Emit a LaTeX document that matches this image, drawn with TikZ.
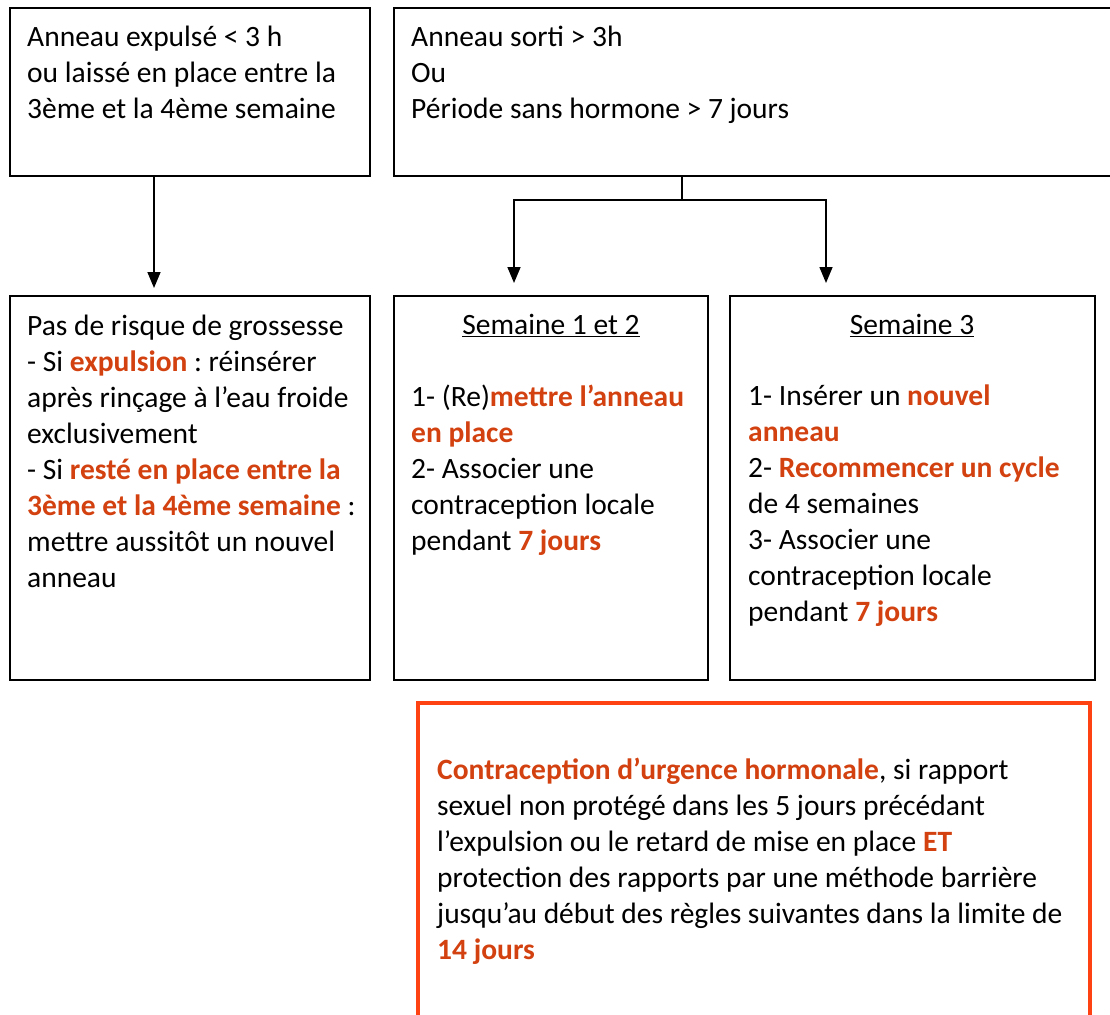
\documentclass[tikz,border=0pt]{standalone}
\usepackage{fontspec}
\setmainfont{Carlito}
\usetikzlibrary{arrows.meta}
\definecolor{fg}{HTML}{000000}
\definecolor{re}{HTML}{D2410F}
\definecolor{rb}{HTML}{FF4212}
\newcommand{\redbf}[1]{\textbf{\color{re}#1}}
\frenchspacing

\begin{document}
\begin{tikzpicture}[x=1pt, y=-1pt,
  panel/.style={draw=fg, line width=1.6pt, anchor=north west, inner sep=0pt, outer sep=0pt},
  txt/.style={anchor=north west, align=left, inner sep=0pt, font=\fontsize{29.5}{36}\selectfont},
  head/.style={anchor=north, inner sep=0pt, font=\fontsize{29.5}{36}\selectfont, execute at begin node=\strut},
  link/.style={draw=fg, line width=1.6pt},
  tip/.style={-{Triangle[length=16pt, width=13pt]}}]

  % Page
  \path[use as bounding box, clip] (0,0) rectangle (1110,1014);

  % Top boxes
  \node[panel, minimum width=360pt, minimum height=168pt] (expul) at (10,8) {};
  \node[panel, minimum width=730pt, minimum height=168pt] (sorti) at (394,8) {};

  % Lower boxes
  \node[panel, minimum width=360pt, minimum height=384pt] (risque) at (10,296) {};
  \node[panel, minimum width=314pt, minimum height=384pt] (sem12) at (394,296) {};
  \node[panel, minimum width=365pt, minimum height=384pt] (sem3) at (730,296) {};

  % Emergency box
  \node[panel, draw=rb, line width=4pt, minimum width=672pt, minimum height=420pt] (urgence) at (418,703) {};

  % Texts
  \node[txt] (texpul) at (27,26) {Anneau expulsé < 3 h\\ou laissé en place entre la\\3ème et la 4ème semaine};
  \node[txt] (tsorti) at (411,26) {Anneau sorti > 3h\\Ou\\Période sans hormone > 7 jours};
  \node[txt] (trisque) at (27,315) {Pas de risque de grossesse\\- Si \redbf{expulsion} : réinsérer\\après rinçage à l’eau froide\\exclusivement\\- Si \redbf{resté en place entre la}\\\redbf{3ème et la 4ème semaine} :\\mettre aussitôt un nouvel\\anneau};
  \node[head] (h12) at (551,309) {\underline{Semaine 1 et 2}};
  \node[txt] (t12) at (411,385) {1- (Re)\redbf{mettre l’anneau}\\\redbf{en place}\\2- Associer une\\contraception locale\\pendant \redbf{7 jours}};
  \node[head] (h3) at (912,309) {\underline{Semaine 3}};
  \node[txt] (t3) at (748,385) {1- Insérer un \redbf{nouvel}\\\redbf{anneau}\\2- \redbf{Recommencer un cycle}\\de 4 semaines\\3- Associer une\\contraception locale\\pendant \redbf{7 jours}};
  \node[txt] (turg) at (437,758) {\redbf{Contraception d’urgence hormonale}, si rapport\\sexuel non protégé dans les 5 jours précédant\\l’expulsion ou le retard de mise en place \redbf{ET}\\protection des rapports par une méthode barrière\\jusqu’au début des règles suivantes dans la limite de\\\redbf{14 jours}};

  % Arrow left
  \coordinate (a) at ([xshift=-36pt]expul.south);
  \draw[link, tip, shorten >=8pt] (a) -- (a |- risque.north);

  % Arrows right
  \coordinate (b) at (682,176);
  \coordinate (bl) at (514,200);
  \coordinate (br) at (826,200);
  \draw[link, tip, shorten >=13pt] (b) -- (b |- bl) -| (bl |- sem12.north);
  \draw[link, tip, shorten >=13pt] (b |- br) -| (br |- sem3.north);
\end{tikzpicture}
\end{document}
